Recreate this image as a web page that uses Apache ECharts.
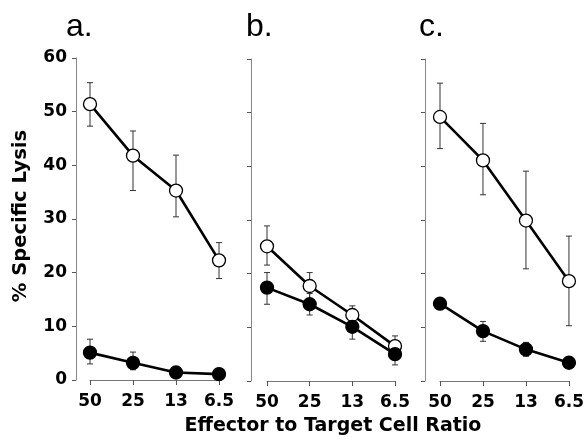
<!DOCTYPE html>
<html>
<head>
<meta charset="utf-8">
<script src="https://cdn.jsdelivr.net/npm/echarts@6/dist/echarts.min.js"></script>
<style>
  html, body { margin: 0; padding: 0; background: #fff; }
  #chart { width: 587px; height: 443px; }
</style>
</head>
<body>
<div id="chart"></div>
<script>
// effector : target ratios (x categories)
var ratios = ['50', '25', '13', '6.5'];
var yTicks = [0, 10, 20, 30, 40, 50, 60];

// panel a
var aOpen = [51.4, 41.8, 35.3, 22.3];
var aOpenLo = [47.3, 35.3, 30.4, 18.9];
var aOpenHi = [55.4, 46.4, 41.9, 25.6];
var aFilled = [5.1, 3.2, 1.4, 1.1];
var aFilledLo = [3.0, 1.9, 1.4, 1.1];
var aFilledHi = [7.6, 5.2, 1.4, 1.1];

// panel b
var bOpen = [25.1, 17.7, 12.3, 6.5];
var bOpenLo = [21.6, 15.3, 11.4, 5.8];
var bOpenHi = [28.9, 20.2, 14.0, 8.4];
var bFilled = [17.4, 14.3, 10.1, 5.0];
var bFilledLo = [14.3, 12.3, 7.8, 3.0];
var bFilledHi = [20.2, 16.3, 11.7, 6.4];

// panel c
var cOpen = [49.2, 41.1, 29.9, 18.6];
var cOpenLo = [43.3, 34.7, 20.9, 10.3];
var cOpenHi = [55.5, 48.0, 39.1, 27.0];
var cFilled = [14.4, 9.3, 5.9, 3.4];
var cFilledLo = [13.3, 7.4, 4.6, 3.4];
var cFilledHi = [15.5, 11.1, 7.2, 3.4];

var panelLabels = ['a.', 'b.', 'c.'];

var FONT = '"Liberation Sans", Arial, Helvetica, sans-serif';
var BOLD = '"DejaVu Sans", "Liberation Sans", Arial, sans-serif';

var chart = echarts.init(document.getElementById('chart'));

var grids = [
    {left: 90, top: 58, width: 129, height: 322},
    {left: 267, top: 59, width: 128, height: 322},
    {left: 440, top: 59, width: 129, height: 322}
];
var yOffsets = [14, 16, 15];

function errData(lo, hi) {
    var out = [];
    for (var i = 0; i < lo.length; i++) {
        out.push([i, lo[i], hi[i]]);
    }
    return out;
}

function errSeries(idx, lo, hi) {
    return {
        type: 'custom',
        xAxisIndex: idx,
        yAxisIndex: idx,
        z: 1,
        silent: true,
        data: errData(lo, hi),
        renderItem: function (params, api) {
            var x = api.value(0);
            var p1 = api.coord([x, api.value(1)]);
            var p2 = api.coord([x, api.value(2)]);
            var w = 3;
            var st = {stroke: '#333', lineWidth: 1};
            return {
                type: 'group',
                children: [
                    {type: 'line', shape: {x1: p1[0], y1: p1[1], x2: p2[0], y2: p2[1]}, style: st},
                    {type: 'line', shape: {x1: p1[0] - w, y1: p1[1], x2: p1[0] + w, y2: p1[1]}, style: st},
                    {type: 'line', shape: {x1: p2[0] - w, y1: p2[1], x2: p2[0] + w, y2: p2[1]}, style: st}
                ]
            };
        }
    };
}

function lineSeries(idx, data, open) {
    return {
        type: 'line',
        xAxisIndex: idx,
        yAxisIndex: idx,
        z: 3,
        data: data,
        symbol: 'circle',
        symbolSize: 13,
        showAllSymbol: true,
        lineStyle: {color: '#000', width: 2.6},
        itemStyle: {
            color: open ? '#fff' : '#000',
            borderColor: '#000',
            borderWidth: 1.3
        }
    };
}

var xAxes = [], yAxes = [];
for (var i = 0; i < 3; i++) {
    xAxes.push({
        type: 'category',
        gridIndex: i,
        data: ratios,
        boundaryGap: false,
        offset: 2,
        axisLine: {lineStyle: {color: '#777', width: 1}},
        axisTick: {show: true, length: 5, lineStyle: {color: '#555'}},
        axisLabel: {
            color: '#000', fontFamily: BOLD, fontWeight: 'bold', fontSize: 17, margin: 11
        },
        splitLine: {show: false}
    });
    yAxes.push({
        type: 'value',
        gridIndex: i,
        min: yTicks[0],
        max: yTicks[yTicks.length - 1],
        interval: 10,
        offset: yOffsets[i],
        axisLine: {show: true, lineStyle: {color: '#888', width: 1}},
        axisTick: {show: true, length: 4, lineStyle: {color: '#555'}},
        axisLabel: {
            show: i === 0,
            color: '#000', fontFamily: BOLD, fontWeight: 'bold', fontSize: 17, margin: 9
        },
        splitLine: {show: false}
    });
}

var series = [
    errSeries(0, aOpenLo, aOpenHi), errSeries(0, aFilledLo, aFilledHi),
    lineSeries(0, aOpen, true), lineSeries(0, aFilled, false),
    errSeries(1, bOpenLo, bOpenHi), errSeries(1, bFilledLo, bFilledHi),
    lineSeries(1, bOpen, true), lineSeries(1, bFilled, false),
    errSeries(2, cOpenLo, cOpenHi), errSeries(2, cFilledLo, cFilledHi),
    lineSeries(2, cOpen, true), lineSeries(2, cFilled, false)
];

var labelX = [66, 246, 419];
var graphics = [];
for (var k = 0; k < 3; k++) {
    graphics.push({
        type: 'text', left: labelX[k], top: 11,
        style: {text: panelLabels[k], fill: '#000', font: '32px ' + FONT}
    });
}
// axis titles
graphics.push({
    type: 'text', x: 333, y: 426,
    style: {
        text: 'Effector to Target Cell Ratio', fill: '#000',
        font: 'bold 19px ' + BOLD, align: 'center', verticalAlign: 'middle'
    }
});
graphics.push({
    type: 'text', x: 21, y: 216, rotation: Math.PI / 2,
    style: {
        text: '% Specific Lysis', fill: '#000',
        font: 'bold 19.5px ' + BOLD, align: 'center', verticalAlign: 'middle'
    }
});

option = {
    animation: false,
    backgroundColor: '#fff',
    grid: grids,
    xAxis: xAxes,
    yAxis: yAxes,
    series: series,
    graphic: graphics
};
chart.setOption(option);
</script>
</body>
</html>
